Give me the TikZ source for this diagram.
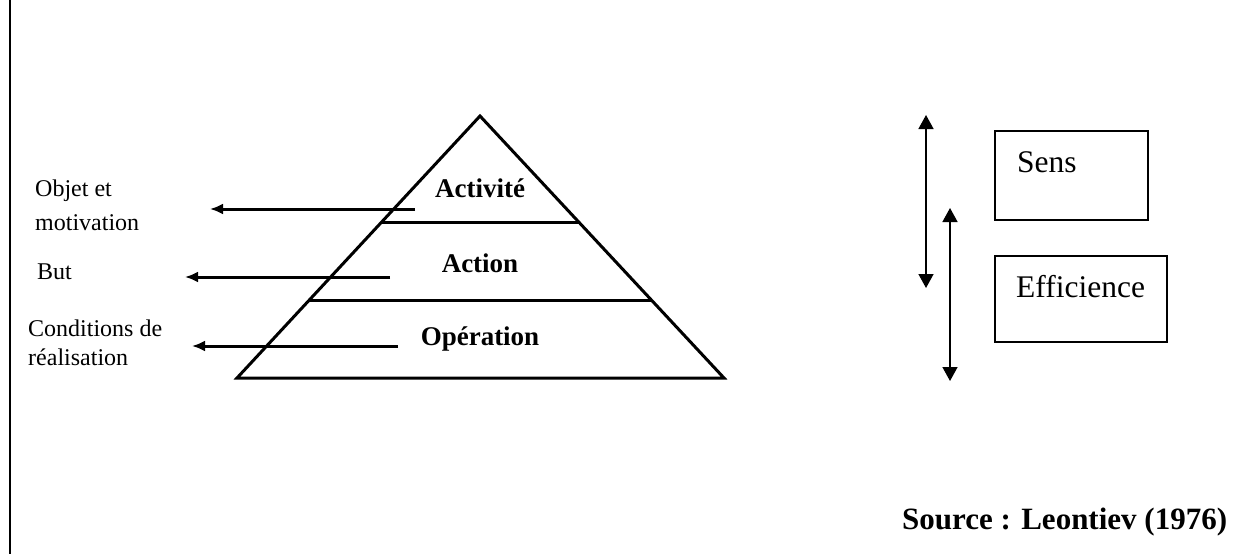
\documentclass[tikz,border=0pt]{standalone}
\usepackage{fontspec}
\setmainfont{Liberation Serif}
\usetikzlibrary{arrows.meta,calc}
\begin{document}
\begin{tikzpicture}[x=1pt,y=-1pt,
  pyr/.style={line width=3pt,line join=miter},
  larrow/.style={line width=3pt,-{Latex[length=13pt,width=11pt]}},
  rarrow/.style={line width=1.5pt,{Triangle[length=14pt,width=15pt]}-{Triangle[length=14pt,width=15pt]}},
  lbl/.style={anchor=west,inner sep=0pt,align=left},
  plbl/.style={inner sep=0pt,font=\fontsize{27}{32}\selectfont\bfseries},
  boxtxt/.style={anchor=west,inner sep=0pt,font=\fontsize{31.5}{36}\selectfont},
  frame/.style={line width=1.3pt}]
\useasboundingbox (0,0) rectangle (1239,554);
% left border
\coordinate (ft) at (10,0);
\coordinate (fb) at (10,554);
\draw[line width=2.4pt] (ft) -- (fb);
% pyramid
\coordinate (apex) at (480,116);
\coordinate (bl) at (237,378);
\coordinate (br) at (724,378);
\draw[pyr] (apex) -- (bl) -- (br) -- cycle;
\coordinate (l1a) at ($(apex)!0.4046!(bl)$);
\coordinate (l1b) at ($(apex)!0.4046!(br)$);
\coordinate (l2a) at ($(apex)!0.7023!(bl)$);
\coordinate (l2b) at ($(apex)!0.7023!(br)$);
\draw[pyr] (l1a) -- (l1b);
\draw[pyr] (l2a) -- (l2b);
\node[plbl] (act) at (480,188) {Activité};
\node[plbl] (acn) at (480,263) {Action};
\node[plbl] (ope) at (480,339) {Opération};
% left arrows
\coordinate (a1s) at (415,209); \coordinate (a1e) at (210,209);
\coordinate (a2s) at (390,277); \coordinate (a2e) at (185,277);
\coordinate (a3s) at (398,346); \coordinate (a3e) at (192,346);
\draw[larrow] (a1s) -- (a1e);
\draw[larrow] (a2s) -- (a2e);
\draw[larrow] (a3s) -- (a3e);
% left labels
\node[lbl,font=\fontsize{24}{34}\selectfont] (obj) at (35,205) {Objet et\\motivation};
\node[lbl,font=\fontsize{24}{29}\selectfont] (but) at (37,272) {But};
\node[lbl,font=\fontsize{24}{29}\selectfont] (cond) at (28,343) {Conditions de\\réalisation};
% right side
\coordinate (r1t) at (926,115); \coordinate (r1b) at (926,288);
\coordinate (r2t) at (950,208); \coordinate (r2b) at (950,381);
\draw[rarrow] (r1t) -- (r1b);
\draw[rarrow] (r2t) -- (r2b);
\draw[frame] (995,131) rectangle (1148,220);
\draw[frame] (995,256) rectangle (1167,342);
\node[boxtxt] (sens) at (1017,162) {Sens};
\node[boxtxt] (eff) at (1016,287) {Efficience};
% source
\node[anchor=west,inner sep=0pt,font=\fontsize{31}{36}\selectfont\bfseries] (src) at (902,522) {Source : Leontiev (1976)};
\end{tikzpicture}
\end{document}
